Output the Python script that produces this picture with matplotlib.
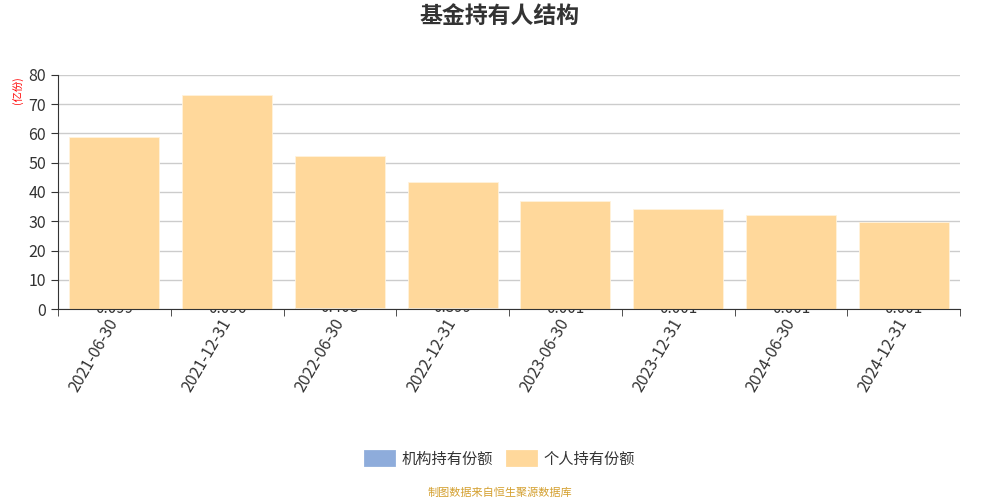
import matplotlib
matplotlib.use("Agg")
import matplotlib.pyplot as plt
import numpy as np
from matplotlib.patches import Patch

plt.rcParams['font.family'] = ['Noto Sans CJK SC', 'DejaVu Sans']

dates = ["2021-06-30", "2021-12-31", "2022-06-30", "2022-12-31",
         "2023-06-30", "2023-12-31", "2024-06-30", "2024-12-31"]
institution = [0.099, 0.096, 0.408, 0.399, 0.001, 0.001, 0.001, 0.001]
personal = [58.8, 73.0, 52.0, 43.0, 37.0, 34.2, 32.0, 29.8]
inst_labels = ["0.099", "0.096", "0.408", "0.399", "0.001", "0.001", "0.001", "0.001"]

c_inst = '#8eacdb'
c_pers = '#ffd89b'

fig = plt.figure(figsize=(10, 5), dpi=100)
ax = fig.add_axes([0.058, 0.382, 0.902, 0.468])

x = np.arange(len(dates))
ax.bar(x, institution, width=0.8, color=c_inst, zorder=1)
ax.bar(x, personal, width=0.8, bottom=institution, color=c_pers, zorder=2,
       edgecolor='#fff3dc', linewidth=0.6)

for xi, v, lab in zip(x, institution, inst_labels):
    ax.annotate(lab, xy=(xi, v), xytext=(0, -4), textcoords='offset pixels',
                ha='center', va='baseline', fontsize=11, color='#333333',
                zorder=0.8, annotation_clip=False)

ax.set_xlim(-0.5, len(dates) - 0.5)
ax.set_ylim(0, 80)
ax.set_yticks(np.arange(0, 81, 10))
ax.tick_params(axis='y', labelsize=11.5, labelcolor='#333333', color='#333333', length=5)
ax.grid(axis='y', color='#cccccc', linewidth=1, zorder=0.5)
ax.set_axisbelow(True)

ax.set_xticks(x)
ax.set_xticklabels(dates, rotation=60, ha='right', va='center', rotation_mode='anchor',
                   fontsize=11.5, color='#333333')
ax.tick_params(axis='x', which='major', length=0, pad=8)
ax.set_xticks(np.arange(-0.5, len(dates)), minor=True)
ax.tick_params(axis='x', which='minor', length=5, color='#333333')

for s in ['top', 'right']:
    ax.spines[s].set_visible(False)
ax.spines['left'].set_color('#333333')
ax.spines['bottom'].set_color('#333333')

fig.text(0.018, 0.82, '(亿份)', rotation=90, color='red', fontsize=7.5,
         ha='center', va='center')

fig.text(0.5, 0.968, '基金持有人结构', ha='center', va='center',
         fontsize=16.5, fontweight='bold', color='#333333')

handles = [Patch(facecolor=c_inst, edgecolor=c_inst, linewidth=2, joinstyle='round',
                 label='机构持有份额'),
           Patch(facecolor=c_pers, edgecolor=c_pers, linewidth=2, joinstyle='round',
                 label='个人持有份额')]
fig.legend(handles=handles, loc='center', bbox_to_anchor=(0.5, 0.082), ncol=2,
           frameon=False, fontsize=11, handlelength=1.9, handleheight=1.0,
           columnspacing=0.9, handletextpad=0.5, labelcolor='#333333')

fig.text(0.5, 0.014, '制图数据来自恒生聚源数据库', ha='center', va='center',
         fontsize=8, color='#d4a030')

fig.savefig('out.png', dpi=100)
